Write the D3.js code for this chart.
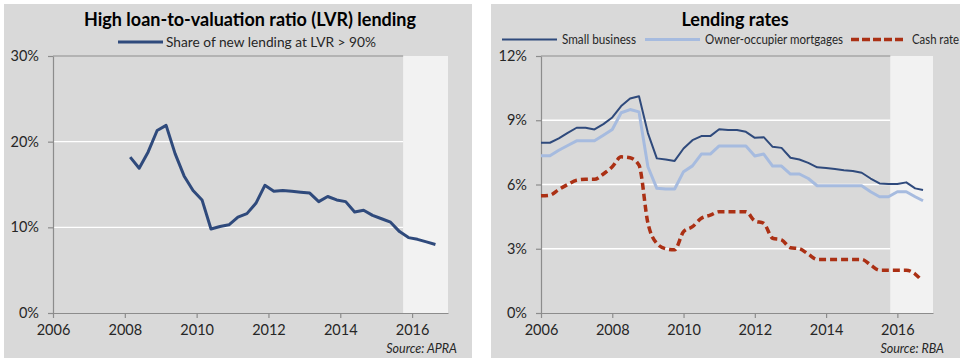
<!DOCTYPE html>
<html><head><meta charset="utf-8">
<script src="https://cdn.jsdelivr.net/npm/d3@7"></script>
<style>
body{margin:0;background:#fff;}
svg{display:block;font-family:Lato,"Open Sans",sans-serif;}
</style></head>
<body><svg id="c" width="965" height="364"></svg>
<script>
// ---------- Data ----------
const lvrTitle = "High loan-to-valuation ratio (LVR) lending";
const lvrLegend = "Share of new lending at LVR > 90%";
const lvrYears = [2008.15,2008.40,2008.65,2008.90,2009.15,2009.40,2009.65,2009.90,2010.15,2010.40,2010.65,2010.90,
  2011.15,2011.40,2011.65,2011.90,2012.15,2012.40,2012.65,2012.90,2013.15,2013.40,2013.65,2013.90,2014.15,2014.40,
  2014.65,2014.90,2015.15,2015.40,2015.65,2015.90,2016.15,2016.40,2016.65];
const lvrShare = [18.2,16.9,18.8,21.3,21.9,18.6,16.0,14.3,13.2,9.8,10.1,10.3,
  11.2,11.6,12.8,14.9,14.2,14.3,14.2,14.1,14.0,13.0,13.6,13.2,13.0,11.8,
  12.0,11.4,11.0,10.6,9.5,8.8,8.6,8.3,8.0];
const lvrYTicks = [0,10,20,30];

const ratesTitle = "Lending rates";
const rateYears = [2006.00,2006.25,2006.50,2006.75,2007.00,2007.25,2007.50,2007.75,2008.00,2008.25,2008.50,2008.75,
  2009.00,2009.25,2009.50,2009.75,2010.00,2010.25,2010.50,2010.75,2011.00,2011.25,2011.50,2011.75,
  2012.00,2012.25,2012.50,2012.75,2013.00,2013.25,2013.50,2013.75,2014.00,2014.25,2014.50,2014.75,
  2015.00,2015.25,2015.50,2015.75,2016.00,2016.25,2016.50,2016.72];
const smallBusiness = [7.95,7.95,8.15,8.41,8.65,8.65,8.57,8.82,9.13,9.66,10.02,10.12,
  8.4,7.22,7.17,7.1,7.68,8.07,8.26,8.26,8.58,8.54,8.54,8.46,
  8.18,8.21,7.76,7.71,7.25,7.17,7.01,6.8,6.77,6.72,6.67,6.63,
  6.55,6.28,6.05,6.02,6.02,6.1,5.82,5.74];
const ownerOccupier = [7.34,7.34,7.6,7.82,8.04,8.04,8.04,8.3,8.57,9.35,9.5,9.39,
  6.83,5.82,5.79,5.79,6.6,6.87,7.42,7.42,7.8,7.8,7.8,7.8,
  7.33,7.42,6.86,6.86,6.49,6.49,6.28,5.94,5.94,5.94,5.94,5.94,
  5.94,5.66,5.43,5.43,5.66,5.66,5.43,5.24];
const cashYears = rateYears.slice(0,43).concat([2016.65]);
const cashRate = [5.47,5.5,5.77,6.0,6.2,6.24,6.24,6.49,6.83,7.29,7.25,6.9,
  4.2,3.25,3.0,2.95,3.8,4.03,4.42,4.57,4.73,4.73,4.73,4.73,
  4.3,4.19,3.49,3.41,3.05,3.0,2.75,2.5,2.5,2.5,2.5,2.5,
  2.5,2.24,2.0,2.0,2.0,2.0,1.82,1.58];
const rateSeriesNames = ["Small business","Owner-occupier mortgages","Cash rate"];
const rateYTicks = [0,3,6,9,12];
const xTicks = [2006,2008,2010,2012,2014,2016];
const forecastStart = [2015.75, 2015.8];
const sources = ["Source: APRA","Source: RBA"];

// ---------- Drawing ----------
const svg = d3.select("#c");
const C = {bg:"#d9d9d9", shade:"#f2f2f2", axis:"#8c8c8c", text:"#262626",
  dark:"#2f4a7c", light:"#a6bbdf", cash:"#ab3014"};

function panel(o){
  const g = svg.append("g");
  g.append("rect").attr("x",o.px).attr("y",4).attr("width",o.pw).attr("height",354).attr("fill",C.bg);
  const x = d3.scaleLinear().domain([2006,2017]).range([o.x0,o.x1]);
  const y = d3.scaleLinear().domain(o.ydom).range([313,56]);
  g.append("rect").attr("x",x(o.shade)).attr("y",y(o.ydom[1]))
    .attr("width",x(2017)-x(o.shade)).attr("height",y(0)-y(o.ydom[1])).attr("fill",C.shade);
  g.selectAll(".grid").data(o.yticks.filter(d=>d>0)).join("line")
    .attr("x1",o.x0).attr("x2",x(o.shade))
    .attr("y1",d=>y(d)).attr("y2",d=>y(d))
    .attr("stroke",d=>d===o.ydom[1]?"#a6a6a6":"#ffffff").attr("stroke-width",1.3);
  const ya = g.append("g").attr("transform",`translate(${o.x0},0)`)
    .call(d3.axisLeft(y).tickValues(o.yticks).tickFormat(d=>d+"%").tickSize(5).tickSizeOuter(0).tickPadding(9));
  const xa = g.append("g").attr("transform",`translate(0,${y(0)})`)
    .call(d3.axisBottom(x).tickValues(xTicks).tickFormat(d3.format("d")).tickSize(5).tickSizeOuter(0).tickPadding(7));
  [ya,xa].forEach(a=>{
    a.selectAll("path,line").attr("stroke",C.axis).attr("stroke-width",1.2);
    a.selectAll("text").attr("fill",C.text).style("font-size","14.5px").style("font-family","Lato, sans-serif");
  });
  g.append("text").attr("x",o.tx).attr("y",26).attr("text-anchor","middle")
    .attr("fill","#000").style("font-size","18px").style("font-weight","bold").text(o.title);
  g.append("text").attr("x",o.sx).attr("y",353).attr("text-anchor","end")
    .attr("fill",C.text).style("font-size","12.5px").style("font-style","italic").text(o.source);
  return {g,x,y};
}

// Left panel
const L = panel({px:4,pw:468,x0:53,x1:448,ydom:[0,30],yticks:lvrYTicks,shade:forecastStart[0],
  title:lvrTitle,tx:250,sx:457,source:sources[0]});
L.g.append("path").datum(lvrYears.map((d,i)=>[d,lvrShare[i]]))
  .attr("d",d3.line().x(d=>L.x(d[0])).y(d=>L.y(d[1])))
  .attr("fill","none").attr("stroke",C.dark).attr("stroke-width",3).attr("stroke-linejoin","round");
L.g.append("line").attr("x1",118).attr("x2",163).attr("y1",42).attr("y2",42)
  .attr("stroke",C.dark).attr("stroke-width",3);
L.g.append("text").attr("x",166).attr("y",47).attr("fill",C.text).style("font-size","14px")
  .attr("textLength",210).attr("lengthAdjust","spacingAndGlyphs").text(lvrLegend);

// Right panel
const R = panel({px:491,pw:469,x0:541,x1:933,ydom:[0,12],yticks:rateYTicks,shade:forecastStart[1],
  title:ratesTitle,tx:735,sx:944,source:sources[1]});
const series = [
  {xs:rateYears,v:ownerOccupier,c:C.light,w:3,dash:null,curve:d3.curveLinear},
  {xs:rateYears,v:smallBusiness,c:C.dark,w:2,dash:null,curve:d3.curveLinear},
  {xs:cashYears,v:cashRate,c:C.cash,w:3.5,dash:"7,4",curve:d3.curveMonotoneX}
];
series.forEach(s=>{
  R.g.append("path").datum(s.xs.map((d,i)=>[d,s.v[i]]))
    .attr("d",d3.line().curve(s.curve).x(d=>R.x(d[0])).y(d=>R.y(d[1])))
    .attr("fill","none").attr("stroke",s.c).attr("stroke-width",s.w)
    .attr("stroke-dasharray",s.dash).attr("stroke-linejoin","round");
});
const leg = [
  {name:rateSeriesNames[0],c:C.dark,w:2,dash:null,lx:502,tx:562,tl:74},
  {name:rateSeriesNames[1],c:C.light,w:3,dash:null,lx:645,tx:705,tl:138},
  {name:rateSeriesNames[2],c:C.cash,w:3.5,dash:"8,3",lx:851,tx:912,tl:47}
];
leg.forEach(l=>{
  R.g.append("line").attr("x1",l.lx).attr("x2",l.lx+55).attr("y1",39.5).attr("y2",39.5)
    .attr("stroke",l.c).attr("stroke-width",l.w).attr("stroke-dasharray",l.dash);
  R.g.append("text").attr("x",l.tx).attr("y",44).attr("fill",C.text).style("font-size","13px")
    .attr("textLength",l.tl).attr("lengthAdjust","spacingAndGlyphs").text(l.name);
});
</script></body></html>
